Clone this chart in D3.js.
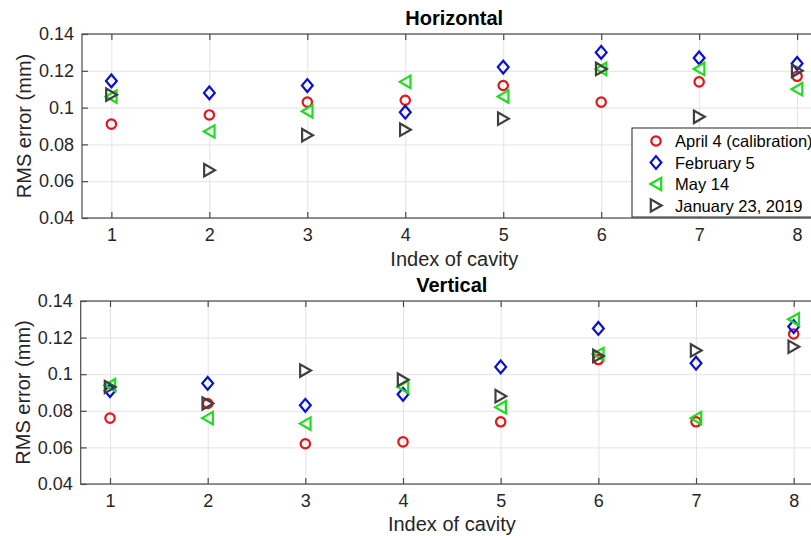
<!DOCTYPE html>
<html><head><meta charset="utf-8">
<script src="https://cdn.jsdelivr.net/npm/d3@7"></script>
<style>
html,body{margin:0;padding:0;background:#fff;overflow:hidden;}
text{font-family:"Liberation Sans",Arial,Helvetica,sans-serif;}
</style></head>
<body>
<svg id="chart" width="811" height="536"></svg>
<script>
const cavities = [1,2,3,4,5,6,7,8];
const xTicks = [1,2,3,4,5,6,7,8];
const yTicks = [0.04,0.06,0.08,0.1,0.12,0.14];
const yTickLabels = ["0.04","0.06","0.08","0.1","0.12","0.14"];
const seriesNames = ["April 4 (calibration)","February 5","May 14","January 23, 2019"];

const hApril = [0.091,0.096,0.103,0.104,0.112,0.103,0.114,0.117];
const hFeb   = [0.1145,0.108,0.112,0.0975,0.122,0.130,0.127,0.124];
const hMay   = [0.106,0.087,0.098,0.114,0.106,0.121,0.121,0.110];
const hJan   = [0.107,0.066,0.085,0.088,0.094,0.121,0.095,0.120];

const vApril = [0.076,0.084,0.062,0.063,0.074,0.108,0.074,0.122];
const vFeb   = [0.091,0.095,0.083,0.089,0.104,0.125,0.106,0.126];
const vMay   = [0.094,0.076,0.073,0.093,0.082,0.111,0.076,0.130];
const vJan   = [0.093,0.084,0.102,0.097,0.088,0.110,0.113,0.115];

const colors = ["#e3141c","#0a10d0","#1fdc1f","#3f3f3f"];
const shapes = ["circle","diamond","triLeft","triRight"];

const svg = d3.select("#chart");

function markerPath(shape){
  if(shape==="diamond") return "M0,-6.4L5.4,0L0,6.4L-5.4,0Z";
  if(shape==="triLeft") return "M-5.6,0L5.2,-6.2L5.2,6.2Z";
  if(shape==="triRight") return "M5.6,0L-5.2,-6.2L-5.2,6.2Z";
  return null;
}
function drawMarker(g, shape, color){
  if(shape==="circle"){
    return g.append("circle").attr("r",4.7).attr("fill","none").attr("stroke",color).attr("stroke-width",2.2);
  }
  return g.append("path").attr("d",markerPath(shape)).attr("fill","none").attr("stroke",color).attr("stroke-width",2.2).attr("stroke-linejoin","miter");
}

function panel(cfg){
  const x = d3.scaleLinear().domain([0.7,8.3]).range([cfg.left,cfg.right]);
  const y = d3.scaleLinear().domain([0.04,0.14]).range([cfg.bottom,cfg.top]);
  const g = svg.append("g");
  g.append("g").attr("transform",`translate(0,${cfg.bottom})`)
    .call(d3.axisBottom(x).tickValues(xTicks).tickSize(-(cfg.bottom-cfg.top)).tickFormat(""))
    .call(a=>{a.select(".domain").remove();a.selectAll("line").attr("stroke","#e3e3e3").attr("stroke-width",1);});
  g.append("g").attr("transform",`translate(${cfg.left},0)`)
    .call(d3.axisLeft(y).tickValues(yTicks).tickSize(-(cfg.right-cfg.left)).tickFormat(""))
    .call(a=>{a.select(".domain").remove();a.selectAll("line").attr("stroke","#e3e3e3").attr("stroke-width",1);});
  g.append("rect").attr("x",cfg.left).attr("y",cfg.top).attr("width",cfg.right-cfg.left).attr("height",cfg.bottom-cfg.top)
    .attr("fill","none").attr("stroke","#4a4a4a").attr("stroke-width",1.2);
  const xa = g.append("g").attr("transform",`translate(0,${cfg.bottom})`)
    .call(d3.axisBottom(x).tickValues(xTicks).tickSizeInner(-6).tickSizeOuter(0).tickPadding(10).tickFormat(d3.format("d")));
  const xt = g.append("g").attr("transform",`translate(0,${cfg.top})`)
    .call(d3.axisTop(x).tickValues(xTicks).tickSizeInner(-6).tickSizeOuter(0).tickFormat(""));
  const ya = g.append("g").attr("transform",`translate(${cfg.left},0)`)
    .call(d3.axisLeft(y).tickValues(yTicks).tickSizeInner(-6).tickSizeOuter(0).tickPadding(8).tickFormat((d,i)=>yTickLabels[i]));
  [xa,xt,ya].forEach(a=>{
    a.select(".domain").remove();
    a.selectAll("line").attr("stroke","#4a4a4a").attr("stroke-width",1.2);
    a.selectAll("text").attr("fill","#262626").style("font-size","18px").style("font-family",'"Liberation Sans",Arial,sans-serif');
  });
  const cx = (cfg.left+cfg.right)/2;
  g.append("text").attr("x",cx).attr("y",cfg.titleY).attr("text-anchor","middle")
    .style("font-size","20px").style("font-weight","bold").attr("fill","#000").text(cfg.title);
  g.append("text").attr("x",cx).attr("y",cfg.xlabelY).attr("text-anchor","middle")
    .style("font-size","20px").attr("fill","#262626").text("Index of cavity");
  g.append("text").attr("transform",`translate(${cfg.ylabelX},${(cfg.top+cfg.bottom)/2}) rotate(-90)`).attr("text-anchor","middle")
    .style("font-size","20px").attr("fill","#262626").text("RMS error (mm)");
  cfg.series.forEach((vals,si)=>{
    const sg = g.append("g");
    vals.forEach((v,i)=>{
      const mg = sg.append("g").attr("transform",`translate(${x(cavities[i])},${y(v)})`);
      drawMarker(mg, shapes[si], colors[si]);
    });
  });
  return {x,y,g};
}

panel({left:82,right:826.5,top:34,bottom:218,title:"Horizontal",titleY:25,xlabelY:266,ylabelX:31,
  series:[hApril,hFeb,hMay,hJan]});
panel({left:80.7,right:823,top:301,bottom:484,title:"Vertical",titleY:292,xlabelY:531,ylabelX:30,
  series:[vApril,vFeb,vMay,vJan]});

const lg = svg.append("g").attr("transform","translate(632,128)");
lg.append("rect").attr("x",0).attr("y",0).attr("width",200).attr("height",89)
  .attr("fill","#fff").attr("stroke","#262626").attr("stroke-width",1);
seriesNames.forEach((name,i)=>{
  const ry = 13 + i*21.5;
  const mg = lg.append("g").attr("transform",`translate(24,${ry})`);
  drawMarker(mg, shapes[i], colors[i]);
  lg.append("text").attr("x",43).attr("y",ry+6).style("font-size","16.5px").attr("fill","#000").text(name);
});
</script>
</body></html>
